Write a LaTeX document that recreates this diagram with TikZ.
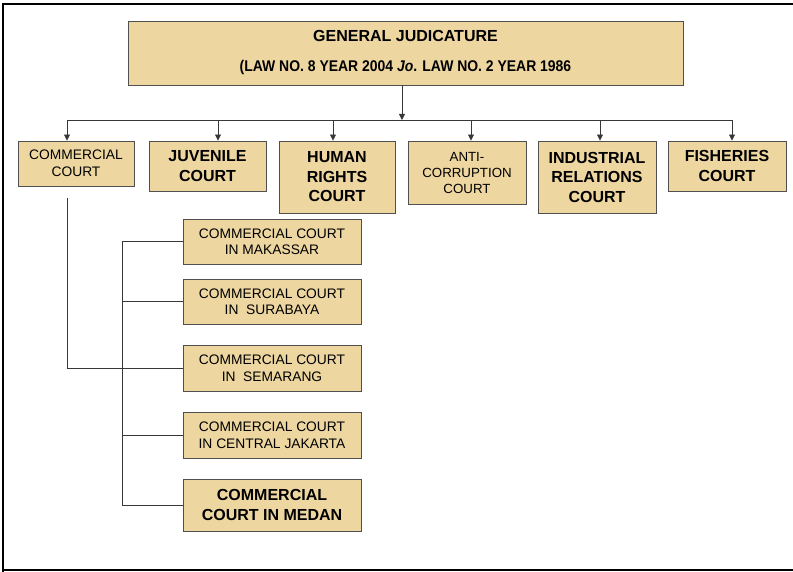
\documentclass[tikz,border=0pt]{standalone}
\usepackage{fontspec}
\setmainfont{Liberation Sans}
\usetikzlibrary{arrows.meta}

\definecolor{papyrus}{RGB}{237,214,160}
\definecolor{edge}{RGB}{80,80,80}
\definecolor{wire}{RGB}{55,55,55}

\tikzset{
  court/.style={draw=edge, line width=0.9pt, fill=papyrus, align=center,
    inner sep=0pt, font=\fontsize{13.8}{16.5}\selectfont},
  bigcourt/.style={court, font=\fontsize{16}{19.5}\selectfont\bfseries},
  link/.style={draw=wire, line width=0.8pt},
  tip/.style={link, -{Triangle[length=6pt,width=6pt]}}
}

\begin{document}
\begin{tikzpicture}[x=1pt, y=-1pt]
  \useasboundingbox (0,0) rectangle (793,572);
  % outer frame
  \draw[line width=2pt] (793,4) -- (3,4) -- (3,572);
  \draw[line width=2pt] (3,570) -- (793,570);

  % top level
  \node[court, minimum width=555pt, minimum height=64pt,
        font=\fontsize{16}{18}\selectfont\bfseries] (general) at (405.5,53)
    {GENERAL JUDICATURE\\[12pt]{\addfontfeature{FakeStretch=0.9}\fontsize{15.5}{18}\selectfont
     (LAW NO. 8 YEAR 2004 \textit{Jo}. LAW NO. 2 YEAR 1986}};

  % special courts
  \node[court, minimum width=116pt, minimum height=45pt] (commercial) at (76,163.5)
    {COMMERCIAL\\COURT};
  \node[bigcourt, minimum width=117pt, minimum height=50pt] (juvenile) at (207.5,166)
    {JUVENILE\\COURT};
  \node[bigcourt, minimum width=116pt, minimum height=72pt] (humanrights) at (337,177)
    {HUMAN\\RIGHTS\\COURT};
  \node[court, minimum width=118pt, minimum height=63pt,
        font=\fontsize{13.3}{16}\selectfont] (anticorruption) at (467,172.5)
    {ANTI-\\CORRUPTION\\COURT};
  \node[bigcourt, minimum width=118pt, minimum height=72pt] (industrial) at (597,177)
    {INDUSTRIAL\\RELATIONS\\COURT};
  \node[bigcourt, minimum width=118pt, minimum height=50pt] (fisheries) at (727,166)
    {FISHERIES\\COURT};

  % commercial courts by city
  \node[court, minimum width=178pt, minimum height=45pt] (makassar) at (272,241.5)
    {COMMERCIAL COURT\\IN MAKASSAR};
  \node[court, minimum width=178pt, minimum height=45pt] (surabaya) at (272,301.5)
    {COMMERCIAL COURT\\IN\ \ SURABAYA};
  \node[court, minimum width=178pt, minimum height=46pt] (semarang) at (272,368)
    {COMMERCIAL COURT\\IN\ \ SEMARANG};
  \node[court, minimum width=178pt, minimum height=46pt] (jakarta) at (272,435)
    {COMMERCIAL COURT\\IN CENTRAL JAKARTA};
  \node[bigcourt, minimum width=178pt, minimum height=52pt] (medan) at (272,505)
    {COMMERCIAL\\COURT IN MEDAN};

  % bus under the top box
  \coordinate (bus) at (402,120);
  \draw[tip] (general.south -| bus) -- (bus);
  \draw[link] (67,120) -- (732,120);

  % drops into the special courts
  \draw[tip] (67,120) -- (commercial.north -| 67,0);
  \draw[tip] (218,120) -- (juvenile.north -| 218,0);
  \draw[tip] (333,120) -- (humanrights.north -| 333,0);
  \draw[tip] (471,120) -- (anticorruption.north -| 471,0);
  \draw[tip] (600,120) -- (industrial.north -| 600,0);
  \draw[tip] (732,120) -- (fisheries.north -| 732,0);

  % commercial court down to the city courts
  \draw[link] (67,198) |- (semarang.west);
  \coordinate (trunk) at (122,0);
  \draw[link] (trunk |- makassar.west) -- (trunk |- medan.west);
  \foreach \city in {makassar,surabaya,jakarta,medan}
    \draw[link] (trunk |- \city.west) -- (\city.west);
\end{tikzpicture}
\end{document}
